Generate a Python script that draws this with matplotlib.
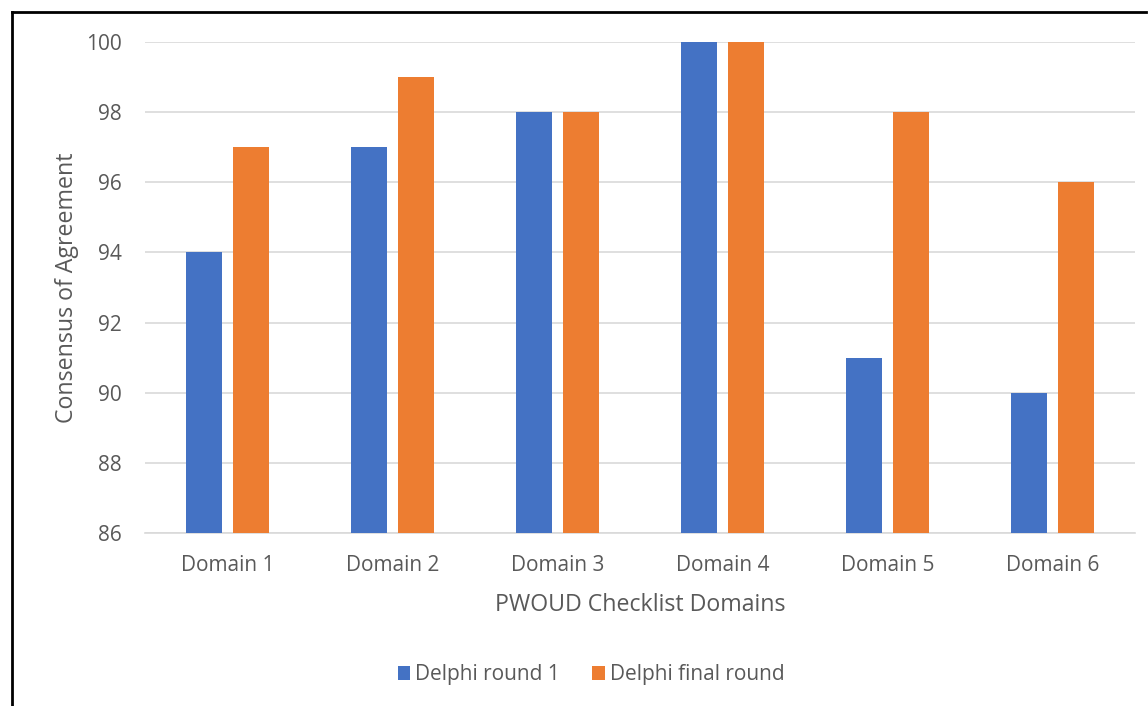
import matplotlib.pyplot as plt
from matplotlib.lines import Line2D
import numpy as np

plt.rcParams['font.family'] = ['Open Sans', 'DejaVu Sans']

domains = ['Domain 1', 'Domain 2', 'Domain 3', 'Domain 4', 'Domain 5', 'Domain 6']
round1 = [94, 97, 98, 100, 91, 90]
final_round = [97, 99, 98, 100, 98, 96]
yticks = [86, 88, 90, 92, 94, 96, 98, 100]

txt = '#595959'
fig = plt.figure(figsize=(11.48, 7.06), dpi=100)
ax = fig.add_axes([0.1263, 0.245, 0.8624, 0.6955])

x = np.arange(len(domains))
w = 0.22
ax.bar(x - 0.1435, round1, w, color='#4472C4', label='Delphi round 1', zorder=3)
ax.bar(x + 0.1435, final_round, w, color='#ED7D31', label='Delphi final round', zorder=3)

ax.set_ylim(86, 100)
ax.set_xlim(-0.5, len(domains) - 0.5)
ax.set_yticks(yticks)
ax.set_xticks(x)
ax.set_xticklabels(domains)
ax.yaxis.grid(True, color='#d9d9d9', linewidth=1.2, zorder=0)
ax.tick_params(length=0, labelsize=15, colors=txt)
ax.tick_params(axis='y', pad=17)
ax.tick_params(axis='x', pad=16)
for s in ['top', 'right', 'left']:
    ax.spines[s].set_visible(False)
ax.spines['bottom'].set_color('#d9d9d9')
ax.spines['bottom'].set_linewidth(1.2)

ax.set_ylabel('Consensus of Agreement', fontsize=16.7, color=txt, labelpad=5)
ax.set_xlabel('PWOUD Checklist Domains', fontsize=16.7, color=txt, labelpad=12)

fig.legend(loc='center', bbox_to_anchor=(0.515, 0.044), ncol=2, frameon=False,
           fontsize=15, labelcolor=txt, handlelength=0.6, handleheight=0.6,
           columnspacing=1.55, handletextpad=0.25)

# outer frame (top and left edges visible)
fig.add_artist(Line2D([12 / 1148, 12 / 1148], [0, 1 - 12 / 706], color='black', lw=2))
fig.add_artist(Line2D([12 / 1148, 1146 / 1148], [1 - 12 / 706, 1 - 12 / 706], color='black', lw=2))

fig.savefig('out.png', dpi=100)
